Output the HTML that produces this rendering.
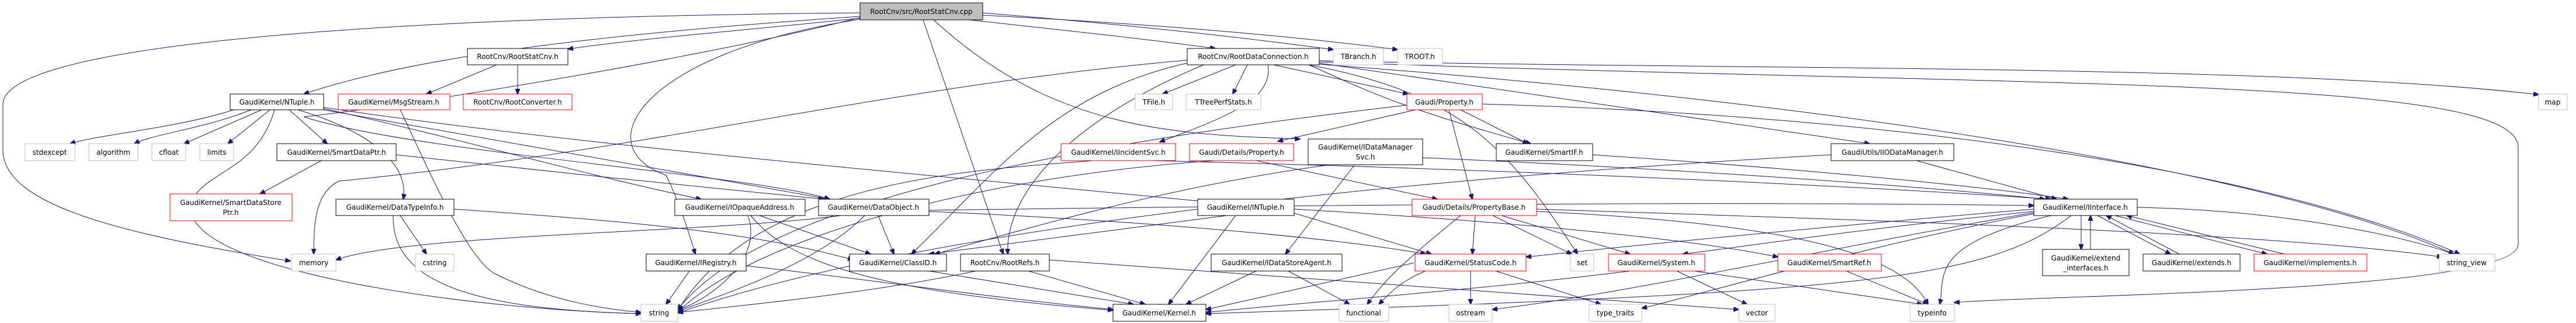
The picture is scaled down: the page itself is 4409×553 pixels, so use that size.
<!DOCTYPE html>
<html><head><meta charset="utf-8"><style>
html,body{margin:0;padding:0;background:#fff;width:4409px;height:553px;overflow:hidden}
svg{display:block}
text{font-family:"DejaVu Sans","Liberation Sans",sans-serif;font-size:12px;fill:#000;text-anchor:middle}
.n{fill:#fff;stroke:#000;stroke-width:1}
.r{fill:#fff;stroke:#ff0000;stroke-width:1}
.g{fill:#fff;stroke:#bfbfbf;stroke-width:1}
.e path{fill:none;stroke:#191970;stroke-width:1;marker-end:url(#ah)}
</style></head><body>
<svg width="4409" height="553" viewBox="0 0 4409 553" xmlns="http://www.w3.org/2000/svg">
<defs><marker id="ah" markerWidth="10" markerHeight="8" refX="9" refY="4" orient="auto" markerUnits="userSpaceOnUse"><path d="M0,0 L10,4 L0,8 z" fill="#191970" stroke="#191970"/></marker></defs>
<g class="e">
<path d="M1472 22 C600 30 0 80 5 180 L5 260 C10 350 200 400 497 447"/>
<path d="M1472 28 C1000 60 700 100 520 161"/>
<path d="M1472 31 C1300 50 1100 65 972 84"/>
<path d="M1660 34 C1800 50 1950 65 2080 83"/>
<path d="M1472 33 C1100 90 1000 250 1140 300 C1160 340 1180 400 1190 435"/>
<path d="M1580 34 L1717 435"/>
<path d="M1598 34 C1800 220 2000 230 2225 238"/>
<path d="M1682 22 C1900 40 2100 60 2282 85"/>
<path d="M1682 26 C1950 40 2200 60 2392 85"/>
<path d="M1472 30 C1200 100 700 180 520 200 C700 260 1300 300 1420 341"/>
<path d="M850 111 L730 161"/>
<path d="M886 111 L886 161"/>
<path d="M400 188 C300 220 170 230 120 246"/>
<path d="M430 188 C350 220 260 230 230 246"/>
<path d="M448 188 L315 246"/>
<path d="M462 188 L390 246"/>
<path d="M495 188 L560 246"/>
<path d="M470 188 C440 290 360 290 330 340 C280 460 800 530 1097 537"/>
<path d="M510 188 C650 230 700 290 690 341"/>
<path d="M554 188 C900 250 1200 300 1420 341"/>
<path d="M554 186 C800 240 1000 300 1200 341"/>
<path d="M554 184 C1000 250 1600 300 2060 345"/>
<path d="M685 188 C720 260 800 450 850 470 C950 520 1050 530 1097 535"/>
<path d="M550 275 L445 332"/>
<path d="M678 265 C900 290 1200 320 1410 341"/>
<path d="M685 369 L730 435"/>
<path d="M673 369 C670 480 800 530 1097 537"/>
<path d="M777 358 C1100 380 1300 400 1460 445"/>
<path d="M2115 111 L1990 161"/>
<path d="M2135 111 L2110 161"/>
<path d="M2170 111 C2180 170 2100 200 1985 243"/>
<path d="M2180 111 L2410 161"/>
<path d="M2240 111 C2330 150 2380 180 2620 246"/>
<path d="M2258 108 C2600 160 2900 200 3200 246"/>
<path d="M2258 104 C3000 120 3900 110 4345 162"/>
<path d="M2258 106 C3500 150 4300 130 4310 250 L4310 420 C4300 500 3500 505 3345 518"/>
<path d="M2258 110 C3200 180 3900 300 4200 435"/>
<path d="M2240 111 C2500 160 2580 250 2700 435"/>
<path d="M2032 103 C1500 150 1100 260 580 310 C540 330 537 380 537 435"/>
<path d="M2032 108 C1800 160 1700 300 1560 435"/>
<path d="M2060 111 C1800 220 1720 350 1725 435"/>
<path d="M2423 188 L2187 242"/>
<path d="M2480 188 L2520 341"/>
<path d="M2500 188 L2615 246"/>
<path d="M2408 180 C1800 250 1300 350 1160 530"/>
<path d="M2537 178 C3300 200 3900 300 4210 435"/>
<path d="M2150 275 L2460 341"/>
<path d="M2080 275 C1700 300 1300 400 1160 534"/>
<path d="M1870 275 C1700 290 1300 300 1160 532"/>
<path d="M1970 275 C2600 290 3200 320 3510 341"/>
<path d="M2318 283 L2200 435"/>
<path d="M2270 283 C2000 320 1800 380 1600 435"/>
<path d="M2435 270 C2900 290 3300 320 3500 341"/>
<path d="M2726 265 C3100 290 3400 320 3540 341"/>
<path d="M3280 275 L3520 341"/>
<path d="M3134 265 C2500 300 1600 380 1160 536"/>
<path d="M1300 369 L1490 435"/>
<path d="M1280 369 C1310 450 1200 520 1160 530"/>
<path d="M1285 369 C1350 450 1500 500 1905 531"/>
<path d="M1503 369 L1530 435"/>
<path d="M1480 369 C1400 450 1250 500 1160 533"/>
<path d="M1590 360 C2300 350 3000 345 3481 352"/>
<path d="M1590 362 C2000 380 2300 410 2440 435"/>
<path d="M1440 369 C1200 400 700 400 575 445"/>
<path d="M2115 369 L2000 521"/>
<path d="M2215 365 L2450 435"/>
<path d="M2215 358 C2600 380 2900 410 3043 440"/>
<path d="M2100 369 L1590 435"/>
<path d="M1180 464 L1140 521"/>
<path d="M1277 455 C1500 480 1700 510 1905 530"/>
<path d="M1590 464 L1940 521"/>
<path d="M1760 464 L1960 521"/>
<path d="M1670 464 C1500 500 1300 520 1160 535"/>
<path d="M1796 445 C2300 480 2700 510 2976 530"/>
<path d="M2150 464 L2030 521"/>
<path d="M2205 464 L2310 521"/>
<path d="M2525 369 L2520 435"/>
<path d="M2555 369 L2690 435"/>
<path d="M2570 369 L2790 435"/>
<path d="M2500 369 C2400 450 2370 480 2340 521"/>
<path d="M2630 358 C3300 380 3900 400 4180 440"/>
<path d="M2630 362 C3000 380 3250 420 3300 521"/>
<path d="M2420 450 L2064 530"/>
<path d="M2517 464 L2517 521"/>
<path d="M2560 464 L2740 521"/>
<path d="M2440 464 C2400 480 2380 500 2360 521"/>
<path d="M2870 464 L2990 521"/>
<path d="M2900 464 L3290 521"/>
<path d="M2790 464 C2500 500 2200 520 2064 535"/>
<path d="M3160 464 L3300 521"/>
<path d="M3562 369 L3562 427"/>
<path d="M3578 427 L3578 369"/>
<path d="M3590 369 L3715 435"/>
<path d="M3730 435 L3605 369"/>
<path d="M3620 369 L3880 435"/>
<path d="M3910 435 L3640 369"/>
<path d="M3658 355 C3900 360 4100 400 4200 435"/>
<path d="M3545 369 C3400 480 3200 500 2064 537"/>
<path d="M3481 358 C3100 390 2800 420 2612 440"/>
<path d="M3481 362 C3200 390 3000 420 2880 435"/>
<path d="M3510 369 C3300 420 3330 470 3320 521"/>
<path d="M3481 366 C3200 420 3000 480 2810 528"/>
<path d="M3481 364 C3100 430 2800 500 2554 530"/>
</g>
<g>
<rect x="1472" y="5" width="210" height="29" fill="#bfbfbf" stroke="#000"/><text x="1577" y="24">RootCnv/src/RootStatCnv.cpp</text>
<rect class="n" x="800" y="83" width="172" height="28"/><text x="886" y="101">RootCnv/RootStatCnv.h</text>
<rect class="n" x="394" y="161" width="160" height="27"/><text x="474" y="179">GaudiKernel/NTuple.h</text>
<rect class="r" x="579" y="161" width="191" height="27"/><text x="674" y="179">GaudiKernel/MsgStream.h</text>
<rect class="r" x="793" y="161" width="186" height="27"/><text x="886" y="179">RootCnv/RootConverter.h</text>
<rect class="g" x="43" y="246" width="85" height="29"/><text x="85" y="265">stdexcept</text>
<rect class="g" x="152" y="246" width="84" height="29"/><text x="194" y="265">algorithm</text>
<rect class="g" x="260" y="246" width="58" height="29"/><text x="289" y="265">cfloat</text>
<rect class="g" x="342" y="246" width="58" height="29"/><text x="371" y="265">limits</text>
<rect class="n" x="474" y="246" width="204" height="29"/><text x="576" y="265">GaudiKernel/SmartDataPtr.h</text>
<rect class="r" x="291" y="332" width="209" height="46"/><text x="395" y="351">GaudiKernel/SmartDataStore</text><text x="395" y="368">Ptr.h</text>
<rect class="n" x="575" y="341" width="202" height="28"/><text x="676" y="359">GaudiKernel/DataTypeInfo.h</text>
<rect class="g" x="499" y="435" width="76" height="29"/><text x="537" y="454">memory</text>
<rect class="g" x="711" y="435" width="66" height="29"/><text x="744" y="454">cstring</text>
<rect class="n" x="2032" y="83" width="226" height="28"/><text x="2145" y="101">RootCnv/RootDataConnection.h</text>
<rect class="g" x="1943" y="161" width="64" height="27"/><text x="1975" y="179">TFile.h</text>
<rect class="g" x="2030" y="161" width="128" height="27"/><text x="2094" y="179">TTreePerfStats.h</text>
<rect class="r" x="1816" y="246" width="196" height="29"/><text x="1914" y="265">GaudiKernel/IIncidentSvc.h</text>
<rect class="r" x="2036" y="246" width="178" height="29"/><text x="2125" y="265">Gaudi/Details/Property.h</text>
<rect class="n" x="1155" y="341" width="223" height="28"/><text x="1266" y="359">GaudiKernel/IOpaqueAddress.h</text>
<rect class="n" x="1401" y="341" width="189" height="28"/><text x="1495" y="359">GaudiKernel/DataObject.h</text>
<rect class="n" x="2050" y="341" width="165" height="28"/><text x="2132" y="359">GaudiKernel/INTuple.h</text>
<rect class="n" x="1106" y="435" width="171" height="29"/><text x="1191" y="454">GaudiKernel/IRegistry.h</text>
<rect class="n" x="1454" y="435" width="166" height="29"/><text x="1537" y="454">GaudiKernel/ClassID.h</text>
<rect class="n" x="1644" y="435" width="152" height="29"/><text x="1720" y="454">RootCnv/RootRefs.h</text>
<rect class="n" x="2073" y="435" width="224" height="29"/><text x="2185" y="454">GaudiKernel/IDataStoreAgent.h</text>
<rect class="g" x="1097" y="521" width="63" height="29"/><text x="1128" y="540">string</text>
<rect class="n" x="1905" y="521" width="159" height="29"/><text x="1984" y="540">GaudiKernel/Kernel.h</text>
<rect class="g" x="2282" y="83" width="86" height="28"/><text x="2325" y="101">TBranch.h</text>
<rect class="g" x="2392" y="83" width="77" height="28"/><text x="2430" y="101">TROOT.h</text>
<rect class="r" x="2408" y="161" width="129" height="27"/><text x="2472" y="179">Gaudi/Property.h</text>
<rect class="n" x="2239" y="238" width="196" height="44"/><text x="2337" y="256">GaudiKernel/IDataManager</text><text x="2337" y="273">Svc.h</text>
<rect class="n" x="2561" y="246" width="165" height="29"/><text x="2643" y="265">GaudiKernel/SmartIF.h</text>
<rect class="n" x="3134" y="246" width="210" height="29"/><text x="3239" y="265">GaudiUtils/IIODataManager.h</text>
<rect class="r" x="2417" y="341" width="213" height="28"/><text x="2523" y="359">Gaudi/Details/PropertyBase.h</text>
<rect class="r" x="2422" y="435" width="190" height="29"/><text x="2517" y="454">GaudiKernel/StatusCode.h</text>
<rect class="g" x="2688" y="435" width="40" height="29"/><text x="2708" y="454">set</text>
<rect class="r" x="2753" y="435" width="165" height="29"/><text x="2835" y="454">GaudiKernel/System.h</text>
<rect class="r" x="3043" y="435" width="177" height="29"/><text x="3131" y="454">GaudiKernel/SmartRef.h</text>
<rect class="g" x="2292" y="521" width="85" height="29"/><text x="2334" y="540">functional</text>
<rect class="g" x="2480" y="521" width="74" height="29"/><text x="2517" y="540">ostream</text>
<rect class="g" x="2720" y="521" width="90" height="29"/><text x="2765" y="540">type_traits</text>
<rect class="g" x="2976" y="521" width="62" height="29"/><text x="3007" y="540">vector</text>
<rect class="g" x="3269" y="521" width="76" height="29"/><text x="3307" y="540">typeinfo</text>
<rect class="g" x="4345" y="161" width="49" height="27"/><text x="4369" y="179">map</text>
<rect class="n" x="3481" y="341" width="177" height="28"/><text x="3569" y="359">GaudiKernel/IInterface.h</text>
<rect class="n" x="3496" y="427" width="148" height="45"/><text x="3570" y="446">GaudiKernel/extend</text><text x="3570" y="463">_interfaces.h</text>
<rect class="n" x="3668" y="435" width="166" height="29"/><text x="3751" y="454">GaudiKernel/extends.h</text>
<rect class="r" x="3858" y="435" width="193" height="29"/><text x="3954" y="454">GaudiKernel/implements.h</text>
<rect class="g" x="4175" y="435" width="95" height="29"/><text x="4222" y="454">string_view</text>
</g>
</svg>
</body></html>
